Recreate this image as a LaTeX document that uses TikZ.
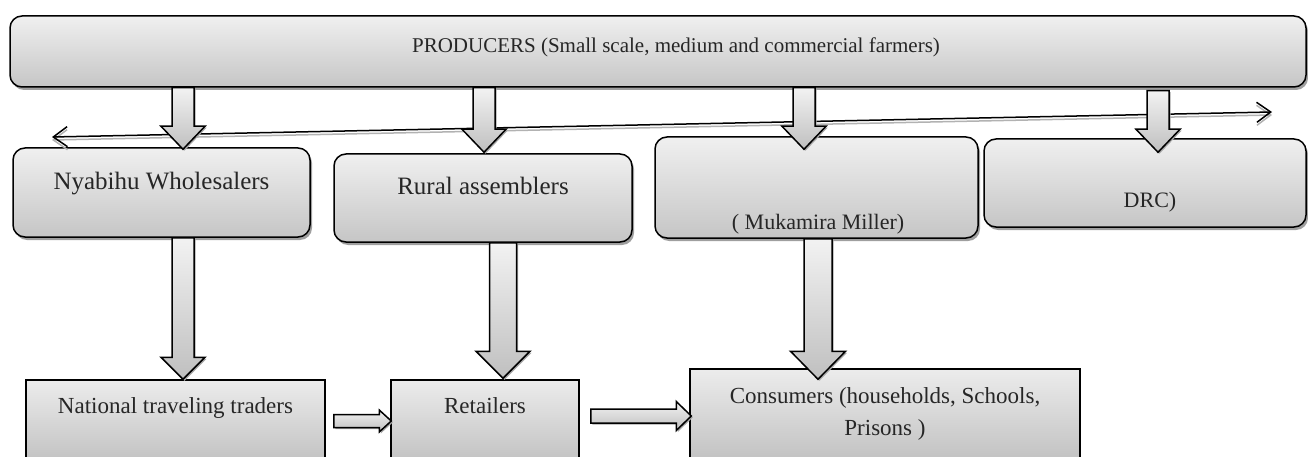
\documentclass[tikz,border=0pt]{standalone}
\usepackage{fontspec}
\setmainfont{Liberation Serif}
\usetikzlibrary{positioning,calc,shadows,arrows.meta}

\newcommand{\blockarrow}[5]{%
    \path (#1) coordinate (bs) (#2) coordinate (be);
    \path ($(be)!#5!(bs)$) coordinate (bh);
    \draw[barrow] ($(bs)!#3!90:(be)$) -- ($(bh)!#3!90:(be)$) -- ($(bh)!#4!90:(be)$)
        -- (be) -- ($(bh)!#4!-90:(be)$) -- ($(bh)!#3!-90:(be)$) -- ($(bs)!#3!-90:(be)$) -- cycle;
}

\begin{document}
\begin{tikzpicture}[
    x=1pt, y=-1pt,
    rbox/.style={draw, line width=1.5pt, rounded corners=12pt, inner sep=0pt,
        top color=gray!12, bottom color=gray!45,
        drop shadow={shadow xshift=2pt, shadow yshift=-3pt, fill=gray!75, opacity=1}},
    sbox/.style={draw, line width=1.5pt, inner sep=0pt, top color=gray!15, bottom color=gray!55},
    barrow/.style={draw, line width=1.5pt, top color=gray!10, bottom color=gray!50,
        drop shadow={shadow xshift=1.5pt, shadow yshift=-1.5pt, fill=gray!70, opacity=1}},
    lbl/.style={inner sep=0pt, align=center, text=black!85, font=\fontsize{23}{32}\selectfont}
]
    \useasboundingbox (0,0) rectangle (1308,457);
    \clip (0,0) rectangle (1308,457);

    \node[rbox, minimum width=1296pt, minimum height=71pt] (prod) at (658,51.5) {};
    \node[rbox, minimum width=297pt, minimum height=89pt] (nya) at (161.5,192.5) {};
    \node[rbox, minimum width=298pt, minimum height=88pt] (rur) at (483,198) {};
    \node[rbox, minimum width=323pt, minimum height=101pt] (muk) at (816.5,187.5) {};
    \node[rbox, minimum width=322pt, minimum height=88pt] (drc) at (1145,183) {};
    \node[sbox, minimum width=299pt, minimum height=100pt] (nat) at (175.5,430) {};
    \node[sbox, minimum width=188pt, minimum height=100pt] (ret) at (485,430) {};
    \node[sbox, minimum width=390pt, minimum height=111pt] (con) at (885,424.5) {};

    \node[lbl, font=\fontsize{21}{26}\selectfont] (prodtxt) at ([xshift=18pt,yshift=4.5pt]prod.center)
        {PRODUCERS (Small scale, medium and commercial farmers)};
    \node[lbl, font=\fontsize{25}{30}\selectfont] (nyatxt) at ([yshift=8.5pt]nya.center) {Nyabihu Wholesalers};
    \node[lbl, font=\fontsize{25}{30}\selectfont] (rurtxt) at ([yshift=12.5pt]rur.center) {Rural assemblers};
    \node[lbl, font=\fontsize{22}{28}\selectfont] (muktxt) at ([xshift=1.5pt,yshift=-37pt]muk.center) {( Mukamira Miller)};
    \node[lbl, font=\fontsize{22}{28}\selectfont] (drctxt) at ([xshift=5pt,yshift=-19pt]drc.center) {DRC)};
    \node[lbl] (nattxt) at ([yshift=22.5pt]nat.center) {National traveling traders};
    \node[lbl] (rettxt) at ([yshift=24.5pt]ret.center) {Retailers};
    \node[lbl] (contxt) at ([yshift=10.5pt]con.center) {Consumers (households, Schools,\\Prisons )};

    \coordinate (lft) at (52,137);
    \coordinate (rgt) at (1272,112);
    \draw[line width=1.5pt, {Straight Barb[length=14pt,width=20pt]}-{Straight Barb[length=14pt,width=20pt]},
        preaction={draw=gray!60, line width=1.5pt, transform canvas={yshift=-3pt}}] (lft) -- (rgt);

    \blockarrow{$(prod.south -| nya.north)+(21.5,0)$}{$(nya.north)+(21.5,2)$}{11pt}{22pt}{23pt}
    \blockarrow{$(prod.south -| rur.north)+(1,0)$}{$(rur.north)+(1,-1)$}{11pt}{22pt}{23pt}
    \blockarrow{$(prod.south -| muk.north)+(-12.5,0)$}{$(muk.north)+(-12.5,13)$}{11pt}{22pt}{23pt}
    \blockarrow{$(prod.south -| drc.north)+(13,3)$}{$(drc.north)+(13,14)$}{11pt}{22pt}{23pt}

    \blockarrow{$(nya.south)+(21.5,0)$}{$(nat.north)+(7.5,0)$}{11pt}{22pt}{22pt}
    \blockarrow{$(rur.south)+(20,0)$}{$(ret.north)+(18,-1)$}{13.5pt}{27pt}{27pt}
    \blockarrow{$(muk.south)+(1.5,0)$}{$(con.north)+(-67,11)$}{14pt}{27.5pt}{28pt}

    \blockarrow{$(nat.east)+(8,-9)$}{$(ret.west)+(1,-9)$}{6.5pt}{11pt}{12pt}
    \blockarrow{$(ret.east)+(11,-14)$}{$(con.west)+(2,-8.5)$}{7pt}{14.5pt}{15pt}
\end{tikzpicture}
\end{document}
